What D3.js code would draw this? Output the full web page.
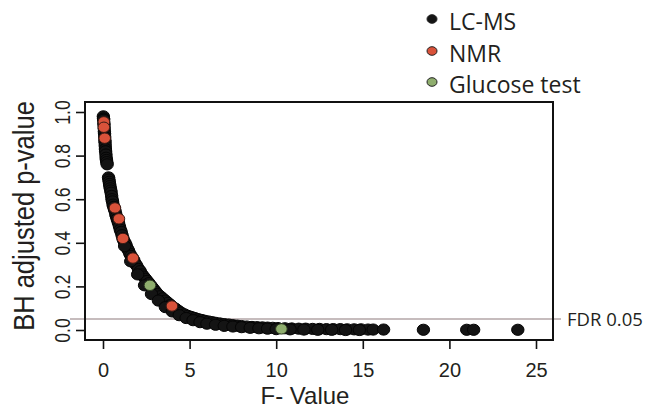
<!DOCTYPE html>
<html><head><meta charset="utf-8">
<script src="https://cdn.jsdelivr.net/npm/d3@7"></script>
<style>body{margin:0;background:#fff}svg{display:block}</style>
</head><body>
<svg id="c" width="648" height="410"></svg>
<script>
// ---- data ----
const xTicks = [0, 5, 10, 15, 20, 25];
const yTicks = [0.0, 0.2, 0.4, 0.6, 0.8, 1.0];
const fdr = 0.05;
const legendLabels = ["LC-MS", "NMR", "Glucose test"];

const lcmsF = [0.02,0.03,0.04,0.05,0.06,0.07,0.08,0.09,0.10,0.11,0.12,0.13,0.14,0.15,0.17,0.18,0.20,0.22,0.24,
  0.32,0.34,0.36,0.38,0.40,0.42,0.45,0.47,0.50,0.52,0.55,0.58,0.62,0.66,0.70,0.74,0.78,0.82,0.86,0.90,0.95,1.00,1.05,1.10,1.15,1.20,1.27,1.33,1.40,1.47,1.55,1.62,1.70,1.78,1.86,1.95,2.05,2.15,2.25,2.35,2.45,2.55,2.65,2.75,2.85,2.95,3.05,3.15,3.30,3.45,3.60,3.75,3.90,4.05,4.20,4.35,4.50,4.70,4.90,5.10,5.30,5.50,5.70,5.90,6.10,6.30,6.50,6.75,7.00,7.25,7.50,7.75,8.00,8.30,8.60,8.90,9.20,9.50,9.80,10.1,10.5,10.9,11.3,11.7,12.1,12.5,12.9,13.3,13.7,14.1,14.5,14.9,15.3,15.6,16.2,18.5,21.0,21.4,23.95,
  1.25,1.60,2.00,2.40,2.80,3.20,3.60,4.00,4.40,4.80,5.20,5.60,6.00,6.50,7.00,7.50,8.00,8.50,9.00,9.50,10.0,10.8,11.6,12.4,13.2,14.0,14.8];
const lcmsP = [0.98,0.97,0.965,0.95,0.94,0.925,0.91,0.90,0.885,0.87,0.86,0.845,0.83,0.82,0.805,0.79,0.78,0.77,0.76,
  0.70,0.69,0.68,0.67,0.66,0.65,0.64,0.63,0.615,0.60,0.59,0.575,0.565,0.555,0.545,0.53,0.52,0.51,0.50,0.49,0.475,0.46,0.45,0.435,0.42,0.41,0.40,0.39,0.375,0.365,0.35,0.34,0.33,0.32,0.305,0.295,0.28,0.27,0.255,0.245,0.235,0.225,0.215,0.205,0.195,0.185,0.175,0.165,0.155,0.145,0.135,0.125,0.115,0.105,0.097,0.088,0.080,0.072,0.065,0.060,0.055,0.050,0.046,0.042,0.039,0.036,0.033,0.030,0.027,0.025,0.022,0.020,0.018,0.016,0.014,0.013,0.012,0.011,0.010,0.009,0.008,0.007,0.006,0.006,0.005,0.005,0.004,0.004,0.004,0.003,0.003,0.003,0.002,0.002,0.002,0.001,0.001,0.001,0.001,
  0.385,0.315,0.255,0.205,0.165,0.135,0.105,0.085,0.068,0.055,0.045,0.036,0.029,0.024,0.019,0.016,0.013,0.010,0.008,0.006,0.004,0.003,0.002,0.001,0.001,0.000,0.000];
const nmrF = [0.05,0.05,0.10,0.69,0.92,1.15,1.73,3.98];
const nmrP = [0.955,0.93,0.88,0.56,0.51,0.42,0.33,0.11];
const gluF = [2.71,10.3];
const gluP = [0.205,0.005];

// ---- drawing ----
const svg = d3.select("#c");
const box = {l:85, r:553, t:102, b:340};
const x = d3.scaleLinear().domain([0,25]).range([103,536]);
const y = d3.scaleLinear().domain([0,1]).range([330,112]);

// FDR line
svg.append("line").attr("x1",70).attr("x2",561).attr("y1",y(fdr)).attr("y2",y(fdr))
  .attr("stroke","#c6bcbd").attr("stroke-width",2);
svg.append("text").attr("x",567).attr("y",y(fdr)+7).text("FDR 0.05")
  .attr("font-family","'Open Sans', sans-serif").attr("font-size",18.5).attr("fill","#231f20");

function pts(F,P,fill,stroke,rx,ry){
  svg.append("g").selectAll("ellipse").data(F.map((f,i)=>[f,P[i]])).join("ellipse")
    .attr("cx",d=>x(d[0])).attr("cy",d=>y(d[1])).attr("rx",rx).attr("ry",ry)
    .attr("fill",fill).attr("stroke",stroke).attr("stroke-width",1);
}
pts(lcmsF,lcmsP,"#141414","#050505",6.2,5.6);
pts(nmrF,nmrP,"#d9523a","#3a1a14",5.8,5.2);
pts(gluF,gluP,"#8fae6e","#2d3a22",5.8,5.2);

// box
svg.append("rect").attr("x",box.l).attr("y",box.t).attr("width",box.r-box.l).attr("height",box.b-box.t)
  .attr("fill","none").attr("stroke","#111").attr("stroke-width",2);

// x axis
const xa = svg.append("g").attr("transform",`translate(0,${box.b})`)
  .call(d3.axisBottom(x).tickValues(xTicks).tickSize(9).tickFormat(d3.format("d")));
xa.select(".domain").remove();
xa.selectAll("line").attr("stroke","#111").attr("stroke-width",1.6);
xa.selectAll("text").attr("font-family","'Liberation Sans', Arial, sans-serif").attr("font-size",20)
  .attr("fill","#231f20").attr("dy",null).attr("y",37);

// y axis
const ya = svg.append("g").attr("transform",`translate(${box.l},0)`)
  .call(d3.axisLeft(y).tickValues(yTicks).tickSize(9).tickFormat(d3.format(".1f")));
ya.select(".domain").remove();
ya.selectAll("line").attr("stroke","#111").attr("stroke-width",1.6);
ya.selectAll("text").attr("font-family","'Liberation Sans', Arial, sans-serif").attr("font-size",22)
  .attr("fill","#231f20").attr("x",null).attr("dy",null)
  .attr("text-anchor","middle").attr("transform","translate(-15,0) rotate(-90) scale(0.8,1)");

// axis titles
svg.append("text").attr("transform","translate(34,216) rotate(-90) scale(0.88,1)")
  .attr("text-anchor","middle").attr("font-family","'Liberation Sans', Arial, sans-serif")
  .attr("font-size",29).attr("fill","#231f20").text("BH adjusted p-value");
svg.append("text").attr("x",305).attr("y",404).attr("text-anchor","middle")
  .attr("font-family","'Liberation Sans', Arial, sans-serif").attr("font-size",24)
  .attr("fill","#231f20").text("F- Value");

// legend
const lg = ["#141414","#d9523a","#8fae6e"];
const lgY = [30,62,93];
legendLabels.forEach((t,i)=>{
  svg.append("ellipse").attr("cx",432).attr("cy",lgY[i]-11).attr("rx",5).attr("ry",4.3)
    .attr("fill",lg[i]).attr("stroke","#222").attr("stroke-width",1);
  svg.append("text").attr("x",449).attr("y",lgY[i]).text(t)
    .attr("font-family","'Open Sans', sans-serif").attr("font-size",23).attr("fill","#231f20");
});
</script>
</body></html>
